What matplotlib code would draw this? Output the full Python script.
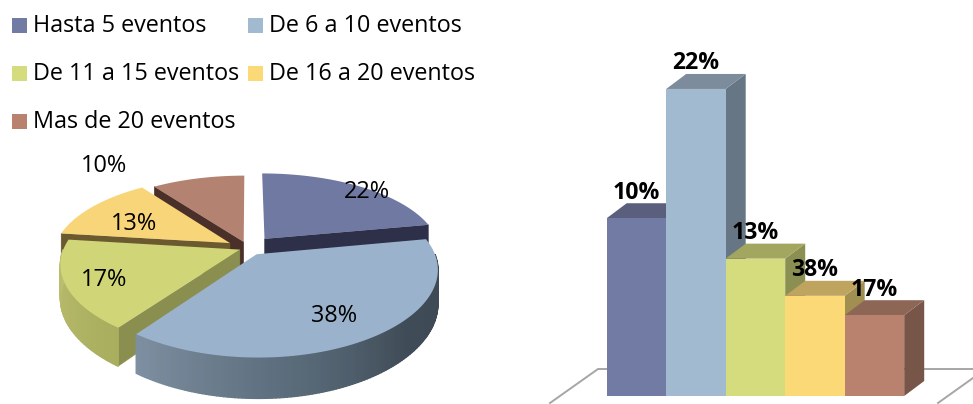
import numpy as np
import matplotlib
matplotlib.use('Agg')
import matplotlib.pyplot as plt
from matplotlib.colors import LinearSegmentedColormap
from matplotlib.patches import Rectangle

categories = ['Hasta 5 eventos', 'De 6 a 10 eventos', 'De 11 a 15 eventos',
              'De 16 a 20 eventos', 'Mas de 20 eventos']
pie_values = [22, 38, 17, 13, 10]
pie_labels = ['22%', '38%', '17%', '13%', '10%']
bar_values = [22, 38, 17, 12.4, 10]
# the printed percentages on the columns run in a different order than the heights
bar_labels = ['10%', '22%', '13%', '38%', '17%']

face_colors = ['#727ba3', '#a1bacf', '#d5dc7d', '#fcd977', '#b8826f']
pie_tops = ['#6f79a2', '#9ab2cb', '#d0d678', '#f7d578', '#b38270']
pie_walls = ['#2d3048', '#5f7080', '#8a8f50', '#6b5a30', '#4a3028']
bar_tops = ['#5a5f7e', '#7c8c9c', '#a2a65f', '#bfa45f', '#8e6656']
bar_sides = ['#4c5068', '#667684', '#8b8f52', '#a08f50', '#775548']

plt.rcParams['font.family'] = ['Open Sans', 'DejaVu Sans']

W, H = 973, 404
fig = plt.figure(figsize=(W / 100, H / 100), dpi=100)

# full figure axes in pixel units, for the pie and the legend
ax = fig.add_axes([0, 0, 1, 1])
ax.set_xlim(0, W)
ax.set_ylim(H, 0)
ax.axis('off')

# legend, two columns with the last entry alone on the third row
legend_cols = [12, 248, 12, 248, 12]
legend_rows = [25, 25, 73, 73, 121]
for name, col, x, y in zip(categories, face_colors, legend_cols, legend_rows):
    ax.add_patch(Rectangle((x, y - 7.5), 15, 15, facecolor=col, edgecolor='none'))
    ax.text(x + 21, y + 1.5, name, fontsize=16.8, va='center', ha='left', color='black')

# tilted pie with perspective
cx, cy = 248, 248
rx, ry = 176, 81
persp_x, persp_y = 0.17, 0.19
depth = 32.5
explode = [0.15, 0.09, 0.05, 0.12, 0.08]


def project(x, y):
    d = 1 + persp_y * y
    return cx + rx * x / (1 + persp_x * y), cy - ry * y / d, depth / d


def rim(angles, e, mid):
    x = e * np.sin(mid) + np.sin(angles)
    y = e * np.cos(mid) + np.cos(angles)
    return project(x, y)


def pie_slice(i, start, end):
    mid = (start + end) / 2
    e = explode[i]
    ax_, ay_, at_ = project(e * np.sin(mid), e * np.cos(mid))

    # cut faces that look towards the viewer
    for a, normal in ((start, start - np.pi / 2), (end, end + np.pi / 2)):
        if np.cos(normal) < -1e-6:
            sx, sy, st = rim(np.array([a]), e, mid)
            ax.fill([ax_, sx[0], sx[0], ax_], [ay_, sy[0], sy[0] + st[0], ay_ + at_],
                    color=pie_walls[i], lw=0.3)

    # outer wall on the front half only, shaded strip by strip
    a0, a1 = max(start, np.pi / 2), min(end, 3 * np.pi / 2)
    if a1 > a0:
        n = int(np.degrees(a1 - a0)) + 2
        steps = np.linspace(a0, a1, n)
        sx, sy, st = rim(steps, e, mid)
        for k in range(n - 1):
            c = wall_maps[i](k / (n - 2))
            ax.fill([sx[k], sx[k + 1], sx[k + 1], sx[k]],
                    [sy[k], sy[k + 1], sy[k + 1] + st[k + 1], sy[k] + st[k]],
                    color=c, lw=1.0)

    # top face
    steps = np.linspace(start, end, 80)
    sx, sy, _ = rim(steps, e, mid)
    ax.fill(np.r_[ax_, sx], np.r_[ay_, sy], color=pie_tops[i], lw=0)


wall_maps = {
    0: LinearSegmentedColormap.from_list('w0', ['#3d4954', '#3d4954']),
    1: LinearSegmentedColormap.from_list('w1', ['#3d4954', '#3f4b56', '#5c6e7d', '#7d8fa0']),
    2: LinearSegmentedColormap.from_list('w2', ['#a8ae5e', '#bcbd6e']),
}

edges = np.radians(np.r_[0, np.cumsum(pie_values)] * 360 / sum(pie_values))
for i in [4, 3, 0, 2, 1]:
    pie_slice(i, edges[i], edges[i + 1])

pie_label_pos = [(367, 192.5), (334, 316.5), (104, 280.5), (134, 223.5), (104, 166.5)]
for lab, (x, y) in zip(pie_labels, pie_label_pos):
    ax.text(x, y, lab, fontsize=16.9, ha='center', va='center', color='black')

# floor of the column chart
ax.plot([550, 598, 973], [403, 369, 369], color='#a6a6a6', lw=1.4, clip_on=True)
ax.plot([938, 973], [403, 378], color='#a6a6a6', lw=1.4, clip_on=True)

# columns get their own axes, one unit wide and scaled to the percent values
bw, unit = 59.5, 8.08
x0, base = 606.7, 396
ax2 = fig.add_axes([0, 0, 1, 1])
ax2.set_xlim((0 - x0) / bw - 0.5, (W - x0) / bw - 0.5)
ax2.set_ylim((base - H) / unit, base / unit)
ax2.axis('off')
ax2.patch.set_alpha(0)

dx, dy = 20 / bw, 15 / unit
pos = np.arange(len(bar_values))
for i, v in zip(pos, bar_values):
    l, r = i - 0.5, i + 0.5
    ax2.fill([r, r + dx, r + dx, r], [0, dy, v + dy, v], color=bar_sides[i], lw=0)
    ax2.fill([l, r, r + dx, l + dx], [v, v, v + dy, v + dy], color=bar_tops[i], lw=0)
    ax2.bar(i, v, width=1, color=face_colors[i], linewidth=0)
    ax2.annotate(bar_labels[i], (i, v), xytext=(0, 18.5), textcoords='offset points',
                 ha='center', va='center', fontsize=16.6, fontweight='bold', color='black')

ax2.set_xlim((0 - x0) / bw - 0.5, (W - x0) / bw - 0.5)
ax2.set_ylim((base - H) / unit, base / unit)

fig.savefig('out.png', dpi=100)
